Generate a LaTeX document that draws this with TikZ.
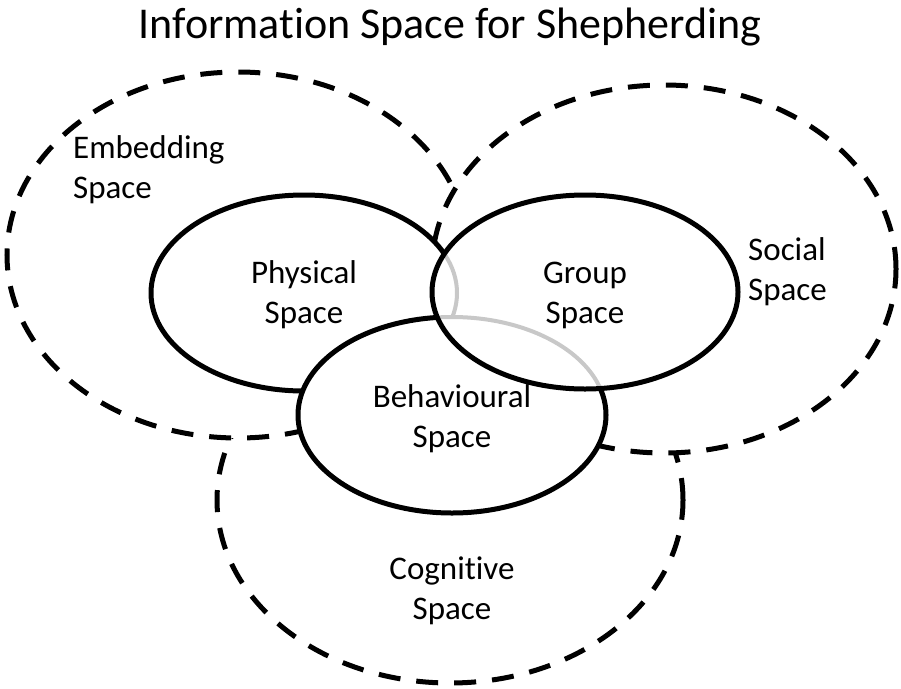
\documentclass[tikz,border=0pt]{standalone}
\usepackage{fontspec}
\setmainfont{Carlito}[RawFeature={-liga;-clig;-calt;-dlig}]
\definecolor{hiddengray}{RGB}{200,200,200}
\begin{document}
\begin{tikzpicture}[x=1pt,y=-1pt,
  dashedring/.style={line width=5pt, dash pattern=on 22pt off 16pt, fill=white},
  solidring/.style={line width=5pt, fill=white},
  hiddenring/.style={line width=4pt, draw=hiddengray},
  lbl/.style={font=\fontsize{33}{40}\selectfont, inner sep=0pt, align=center},
  titlestyle/.style={font=\fontsize{44}{53}\selectfont, inner sep=0pt}]
\fill[white] (0,0) rectangle (901,688);
\useasboundingbox (0,0) rectangle (901,688);
% dashed outer spaces
\draw[dashedring] (450,500) ellipse [x radius=233pt, y radius=183pt];
\draw[dashedring] (238,255) ellipse [x radius=231pt, y radius=183pt];
\draw[dashedring] (664,269) ellipse [x radius=232pt, y radius=184pt];
% solid inner spaces
\draw[solidring] (304,293) ellipse [x radius=153pt, y radius=98pt];
\draw[solidring] (452,415) ellipse [x radius=154pt, y radius=98pt];
\fill[white] (585,292) ellipse [x radius=153pt, y radius=97pt];
\begin{scope}
  \clip (585,292) ellipse [x radius=153pt, y radius=97pt];
  \draw[hiddenring] (304,293) ellipse [x radius=153pt, y radius=98pt];
  \fill[white] (452,415) ellipse [x radius=154pt, y radius=98pt];
  \draw[hiddenring] (452,415) ellipse [x radius=154pt, y radius=98pt];
\end{scope}
\draw[line width=5pt] (585,292) ellipse [x radius=153pt, y radius=97pt];
% labels
\node[titlestyle, anchor=base] (title) at (450,38) {Information Space for Shepherding};
\node[lbl, align=left, anchor=west] (embedding) at (73,170) {Embedding\\Space};
\node[lbl, align=left, anchor=west] (social) at (748,272) {Social\\Space};
\node[lbl] (physical) at (304,295) {Physical\\Space};
\node[lbl] (group) at (585,295) {Group\\Space};
\node[lbl] (behavioural) at (452,419) {Behavioural\\Space};
\node[lbl] (cognitive) at (452,591) {Cognitive\\Space};
\end{tikzpicture}
\end{document}
